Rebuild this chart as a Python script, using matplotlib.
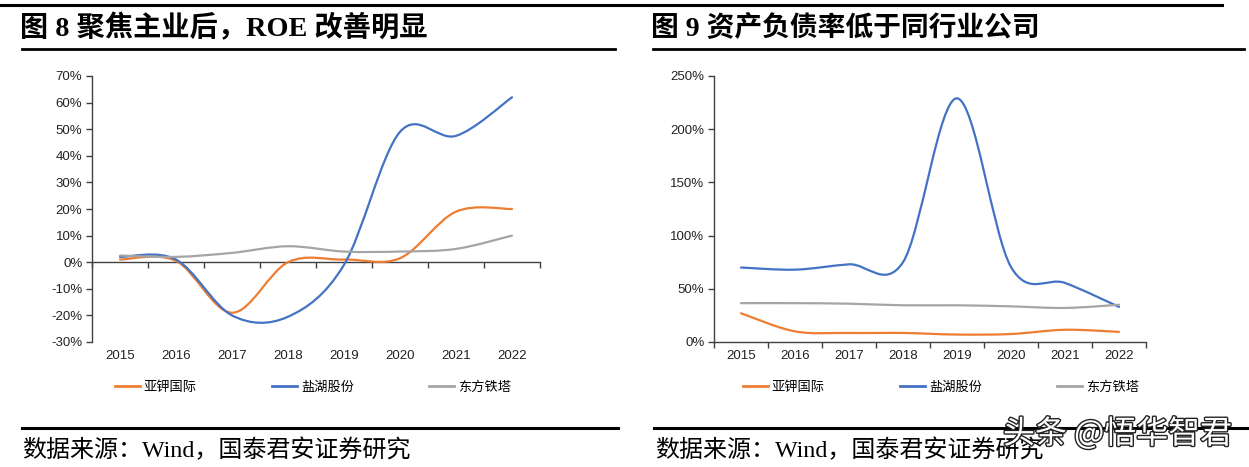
import matplotlib
matplotlib.use("Agg")
import matplotlib.pyplot as plt
from matplotlib.path import Path
from matplotlib.patches import PathPatch
from matplotlib.lines import Line2D
import matplotlib.transforms as mtransforms
import matplotlib.patheffects as pe

plt.rcParams['font.family'] = ['Liberation Sans', 'Noto Sans CJK SC', 'DejaVu Sans']

# ---------------- data ----------------
years = ['2015', '2016', '2017', '2018', '2019', '2020', '2021', '2022']
companies = ['亚钾国际', '盐湖股份', '东方铁塔']

roe_yajia = [1.0, 0.5, -19.0, 0.0, 1.0, 1.5, 19.0, 20.0]
roe_yanhu = [2.0, 1.0, -20.0, -20.5, -1.0, 49.0, 47.5, 62.0]
roe_dongfang = [2.5, 2.0, 3.5, 6.0, 4.0, 4.0, 5.0, 10.0]

debt_yajia = [27.0, 10.0, 8.5, 8.5, 7.0, 7.5, 11.5, 9.5]
debt_yanhu = [70.0, 68.0, 73.0, 75.0, 229.0, 70.5, 55.5, 33.0]
debt_dongfang = [36.5, 36.5, 36.0, 34.5, 34.5, 33.5, 32.0, 35.0]

roe_ticks = [-30, -20, -10, 0, 10, 20, 30, 40, 50, 60, 70]
debt_ticks = [0, 50, 100, 150, 200, 250]

title_left = '图 8 聚焦主业后，ROE 改善明显'
title_right = '图 9 资产负债率低于同行业公司'
source_text = '数据来源：Wind，国泰君安证券研究'
watermark = '头条 @悟华智君'

colors = ['#ED7D31', '#4472C4', '#A5A5A5']

W, H = 1249, 467
fig = plt.figure(figsize=(W / 100, H / 100), dpi=100)


def fx(px):
    return px / W


def fy(py):
    return 1 - py / H


def smooth_patch(ax, xs, ys, color):
    # Excel-style smoothed line (Catmull-Rom as cubic Bezier)
    n = len(xs)
    verts = [(xs[0], ys[0])]
    codes = [Path.MOVETO]
    for i in range(n - 1):
        x0, y0 = (xs[i - 1], ys[i - 1]) if i > 0 else (xs[i], ys[i])
        x1, y1 = xs[i], ys[i]
        x2, y2 = xs[i + 1], ys[i + 1]
        x3, y3 = (xs[i + 2], ys[i + 2]) if i + 2 < n else (xs[i + 1], ys[i + 1])
        c1 = (x1 + (x2 - x0) / 6, y1 + (y2 - y0) / 6)
        c2 = (x2 - (x3 - x1) / 6, y2 - (y3 - y1) / 6)
        verts += [c1, c2, (x2, y2)]
        codes += [Path.CURVE4] * 3
    patch = PathPatch(Path(verts, codes), facecolor='none', edgecolor=color,
                      lw=1.6, capstyle='round', joinstyle='round', zorder=3)
    ax.add_patch(patch)


def setup_axes(rect, series, yticks, ylim, zero_axis, legend_x):
    ax = fig.add_axes(rect)
    xs = list(range(len(years)))
    for vals, c in zip(series, colors):
        smooth_patch(ax, xs, vals, c)
    ax.set_xlim(-0.5, len(years) - 0.5)
    ax.set_ylim(*ylim)
    for s in ['top', 'right']:
        ax.spines[s].set_visible(False)
    ax.spines['left'].set_color('#404040')
    ax.spines['bottom'].set_color('#404040')
    ax.spines['left'].set_linewidth(1.0)
    ax.spines['bottom'].set_linewidth(1.0)
    if zero_axis:
        ax.spines['bottom'].set_position(('data', 0))
    ax.set_yticks(yticks)
    ax.set_yticklabels([f'{t}%' for t in yticks])
    ax.tick_params(axis='y', direction='out', length=4, width=1, color='#404040',
                   labelsize=9.5, labelcolor='#222222', pad=3)
    ax.set_xticks([i - 0.5 for i in range(len(years) + 1)])
    ax.set_xticklabels([])
    ax.tick_params(axis='x', direction='out', length=4, width=1, color='#404040')
    trans = mtransforms.blended_transform_factory(ax.transData, ax.transAxes)
    for i, y in enumerate(years):
        ax.text(i, -14 / 266, y, transform=trans, ha='center', va='center',
                fontsize=9.5, color='#222222')
    handles = [Line2D([0], [0], color=c, lw=2) for c in colors]
    fig.legend(handles, companies, loc='center', bbox_to_anchor=(fx(legend_x), fy(387)),
               ncol=3, frameon=False, handlelength=1.9, handletextpad=0.3,
               columnspacing=5.7, prop={'family': ['Noto Sans CJK SC'], 'size': 9.5})
    return ax


axy0 = 76
axy1 = 342
left_rect = [fx(92), fy(axy1), fx(540 - 92), (axy1 - axy0) / H]
right_rect = [fx(714), fy(axy1), fx(1146 - 714), (axy1 - axy0) / H]

setup_axes(left_rect, [roe_yajia, roe_yanhu, roe_dongfang], roe_ticks, (-30, 70), True, 313)
setup_axes(right_rect, [debt_yajia, debt_yanhu, debt_dongfang], debt_ticks, (0, 250), False, 941)

# rules
fig.add_artist(Line2D([fx(0), fx(1222)], [fy(5), fy(5)], color='black', lw=2.2))
fig.add_artist(Line2D([fx(22), fx(615)], [fy(49), fy(49)], color='black', lw=2.0))
fig.add_artist(Line2D([fx(653), fx(1244)], [fy(49), fy(49)], color='black', lw=2.0))
fig.add_artist(Line2D([fx(22), fx(618)], [fy(428), fy(428)], color='black', lw=2.2))
fig.add_artist(Line2D([fx(654), fx(1249)], [fy(428), fy(428)], color='black', lw=2.2))

title_font = ['Liberation Serif', 'Noto Sans CJK SC']
fig.text(fx(20), fy(28), title_left, ha='left', va='center', fontsize=20.3,
         fontweight='bold', family=title_font)
fig.text(fx(651), fy(28), title_right, ha='left', va='center', fontsize=20,
         fontweight='bold', family=title_font)

fig.text(fx(22), fy(450), source_text, ha='left', va='center', fontsize=17.3,
         family=title_font)
fig.text(fx(655), fy(450), source_text, ha='left', va='center', fontsize=17.3,
         family=title_font)

fig.text(fx(1003), fy(434), watermark, ha='left', va='center', fontsize=23,
         color='white', family=['Noto Sans CJK SC', 'DejaVu Sans'],
         path_effects=[pe.withStroke(linewidth=2.0, foreground='#222222')])

fig.savefig('out.png', dpi=100)
